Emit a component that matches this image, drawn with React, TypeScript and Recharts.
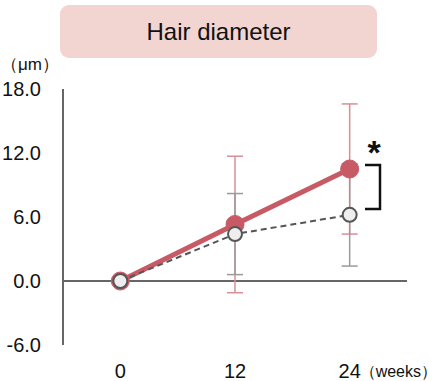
import { LineChart, Line, XAxis, YAxis, ErrorBar, ReferenceLine } from 'recharts';

const weeks = [0, 12, 24];
const treatedMean = [0, 5.3, 10.5];
const treatedErr = [null, 6.4, 6.1];
const controlMean = [0, 4.4, 6.2];
const controlErr = [null, 3.8, 4.8];
const yTicks = [-6, 0, 6, 12, 18];

const data = weeks.map((w, i) => ({
  week: w,
  treated: treatedMean[i],
  treatedErr: treatedErr[i],
  control: controlMean[i],
  controlErr: controlErr[i],
}));

const FONT = '"Liberation Sans", Arial, sans-serif';
const RED = '#c85a66';

const YTick = ({ x, y, payload }: any) => (
  <text x={x - 14} y={y} dy={7} textAnchor="end" fontSize={20} fill="#111" fontFamily={FONT}>
    {payload.value.toFixed(1)}
  </text>
);

const XTick = ({ x, y, payload }: any) => (
  <g>
    <text x={x} y={y + 25} textAnchor="middle" fontSize={20} fill="#111" fontFamily={FONT}>
      {payload.value}
    </text>
    {payload.value === 24 && (
      <text x={x + 10} y={y + 24} textAnchor="start" fontSize={16} fill="#111" fontFamily={FONT}>
        （weeks）
      </text>
    )}
  </g>
);

export default function App() {
  return (
    <div style={{ position: 'absolute', left: 0, top: 0, width: 436, height: 381, background: '#fff', fontFamily: FONT }}>
      <div
        style={{
          position: 'absolute', left: 60, top: 5, width: 317, height: 53, borderRadius: 9,
          background: '#f2d5d1', display: 'flex', alignItems: 'center', justifyContent: 'center',
          fontSize: 24, color: '#111',
        }}
      >
        Hair diameter
      </div>
      <div style={{ position: 'absolute', left: 1, top: 53, fontSize: 17, color: '#111' }}>（μm）</div>
      <LineChart width={436} height={381} data={data} margin={{ top: 89, right: 29, bottom: 0, left: 0 }}>
        <XAxis
          dataKey="week"
          type="number"
          domain={[-6, 30]}
          ticks={[0, 12, 24]}
          axisLine={false}
          tickLine={false}
          height={36}
          tick={<XTick />}
          interval={0}
        />
        <YAxis
          type="number"
          domain={[-6, 18]}
          ticks={yTicks}
          width={63}
          axisLine={{ stroke: '#666', strokeWidth: 2 }}
          tickLine={false}
          tick={<YTick />}
          interval={0}
        />
        <ReferenceLine y={0} stroke="#666" strokeWidth={2} />
        <Line
          dataKey="treated"
          stroke={RED}
          strokeWidth={5}
          dot={{ r: 9, fill: RED, stroke: RED, strokeWidth: 1 }}
          isAnimationActive={false}
        >
          <ErrorBar dataKey="treatedErr" width={8} stroke="#d98e97" strokeWidth={1.5} direction="y" />
        </Line>
        <Line
          dataKey="control"
          stroke="#555"
          strokeWidth={2}
          strokeDasharray="6 4"
          dot={{ r: 7, fill: '#eeeeee', stroke: '#555', strokeWidth: 2, strokeDasharray: 'none' }}
          isAnimationActive={false}
        >
          <ErrorBar dataKey="controlErr" width={8} stroke="#9a9a9a" strokeWidth={1.5} direction="y" />
        </Line>
      </LineChart>
      <svg width={436} height={381} style={{ position: 'absolute', left: 0, top: 0, pointerEvents: 'none' }}>
        <path d="M365 165 H380 V209 H365" fill="none" stroke="#111" strokeWidth={2.5} />
        <text x={374} y={164} textAnchor="middle" fontSize={34} fontWeight="bold" fill="#111" fontFamily={FONT}>
          *
        </text>
      </svg>
    </div>
  );
}
